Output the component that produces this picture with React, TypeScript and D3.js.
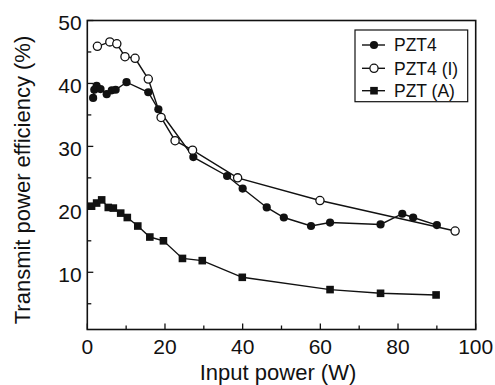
import React from "react";
import * as d3 from "d3";

const pzt4X = [1.5, 1.8, 2.4, 3.4, 5.0, 6.3, 7.3, 10.1, 15.7, 18.3, 27.3, 36.0, 40.0, 46.2, 50.6, 57.6, 62.5, 75.5, 81.1, 83.9, 90.0];
const pzt4Y = [37.7, 39.0, 39.6, 39.1, 38.3, 38.9, 39.0, 40.2, 38.6, 35.9, 28.3, 25.3, 23.3, 20.3, 18.7, 17.35, 17.9, 17.6, 19.3, 18.7, 17.5];
const pzt4IX = [2.6, 5.8, 7.6, 9.7, 12.3, 15.7, 19.0, 22.6, 27.1, 38.7, 59.9, 94.7];
const pzt4IY = [45.9, 46.6, 46.3, 44.25, 44.0, 40.7, 34.6, 30.9, 29.4, 25.0, 21.4, 16.55];
const pztAX = [1.1, 2.4, 3.7, 5.4, 6.7, 8.6, 10.3, 13.0, 16.1, 19.6, 24.5, 29.6, 39.9, 62.5, 75.5, 89.8];
const pztAY = [20.5, 21.0, 21.5, 20.3, 20.2, 19.4, 18.7, 17.35, 15.6, 15.0, 12.2, 11.85, 9.2, 7.25, 6.66, 6.4];
const xTicks = [0, 20, 40, 60, 80, 100];
const yTicks = [10, 20, 30, 40, 50];
const seriesNames = ["PZT4", "PZT4 (I)", "PZT (A)"];

const W = 495, H = 385;
const left = 87.3, right = 475.7, top = 20.5, bottom = 329.5;
const font = "'Liberation Sans', Arial, sans-serif";

export default function App() {
  const x = d3.scaleLinear().domain([0, 100]).range([left, right]);
  const y = d3.scaleLinear().domain([0.91, 50]).range([bottom, top]);
  const line = d3.line<[number, number]>().x(d => x(d[0])).y(d => y(d[1]));
  const zip = (a: number[], b: number[]) => a.map((v, i) => [v, b[i]] as [number, number]);
  const s1 = zip(pzt4X, pzt4Y);
  const s2 = zip(pzt4IX, pzt4IY);
  const s3 = zip(pztAX, pztAY);
  const xMinor = d3.range(0, 101, 10);
  const yMinor = d3.range(5, 51, 5);

  const marker = (k: number, cx: number, cy: number, key: any) => {
    if (k === 0) return <circle key={key} cx={cx} cy={cy} r={4.1} fill="#111" />;
    if (k === 1) return <circle key={key} cx={cx} cy={cy} r={4.1} fill="#fff" stroke="#111" strokeWidth={1.3} />;
    return <rect key={key} x={cx - 3.8} y={cy - 3.8} width={7.6} height={7.6} fill="#111" />;
  };

  const legY = [45, 68.3, 90.7];

  return (
    <svg width={W} height={H} style={{ position: "absolute", left: 0, top: 0, background: "#fff" }}>
      <rect x={0} y={0} width={W} height={H} fill="#fff" />
      {[s1, s2, s3].map((s, i) => (
        <path key={i} d={line(s) || ""} fill="none" stroke="#111" strokeWidth={1.4} />
      ))}
      {s1.map((d, i) => marker(0, x(d[0]), y(d[1]), "a" + i))}
      {s2.map((d, i) => marker(1, x(d[0]), y(d[1]), "b" + i))}
      {s3.map((d, i) => marker(2, x(d[0]), y(d[1]), "c" + i))}
      <rect x={left} y={top} width={right - left} height={bottom - top} fill="none" stroke="#111" strokeWidth={1.6} />
      {xMinor.map(v => (
        <line key={"xt" + v} x1={x(v)} x2={x(v)} y1={bottom} y2={bottom - (v % 20 === 0 ? 6 : 4)} stroke="#111" strokeWidth={1.3} />
      ))}
      {yMinor.map(v => (
        <line key={"yt" + v} x1={left} x2={left + (v % 10 === 0 ? 6 : 4)} y1={y(v)} y2={y(v)} stroke="#111" strokeWidth={1.3} />
      ))}
      {xTicks.map(v => (
        <text key={"xl" + v} x={x(v)} y={bottom + 24.5} textAnchor="middle" fontFamily={font} fontSize={21} fill="#111">{v}</text>
      ))}
      {yTicks.map(v => (
        <text key={"yl" + v} x={left - 5.6} y={y(v) + 9.5} textAnchor="end" fontFamily={font} fontSize={21} fill="#111">{v}</text>
      ))}
      <text x={278} y={380} textAnchor="middle" fontFamily={font} fontSize={22} fill="#111">Input power (W)</text>
      <text transform={`translate(30,180) rotate(-90)`} textAnchor="middle" fontFamily={font} fontSize={22} fill="#111">Transmit power efficiency (%)</text>
      <rect x={355} y={30} width={112.7} height={71.7} fill="#fff" stroke="#111" strokeWidth={1.2} />
      {seriesNames.map((n, i) => (
        <g key={n}>
          <line x1={362} x2={385} y1={legY[i]} y2={legY[i]} stroke="#111" strokeWidth={1.4} />
          {marker(i, 374, legY[i], "lm" + i)}
          <text x={394} y={legY[i] + 6.3} fontFamily={font} fontSize={17.5} fill="#111">{n}</text>
        </g>
      ))}
    </svg>
  );
}
